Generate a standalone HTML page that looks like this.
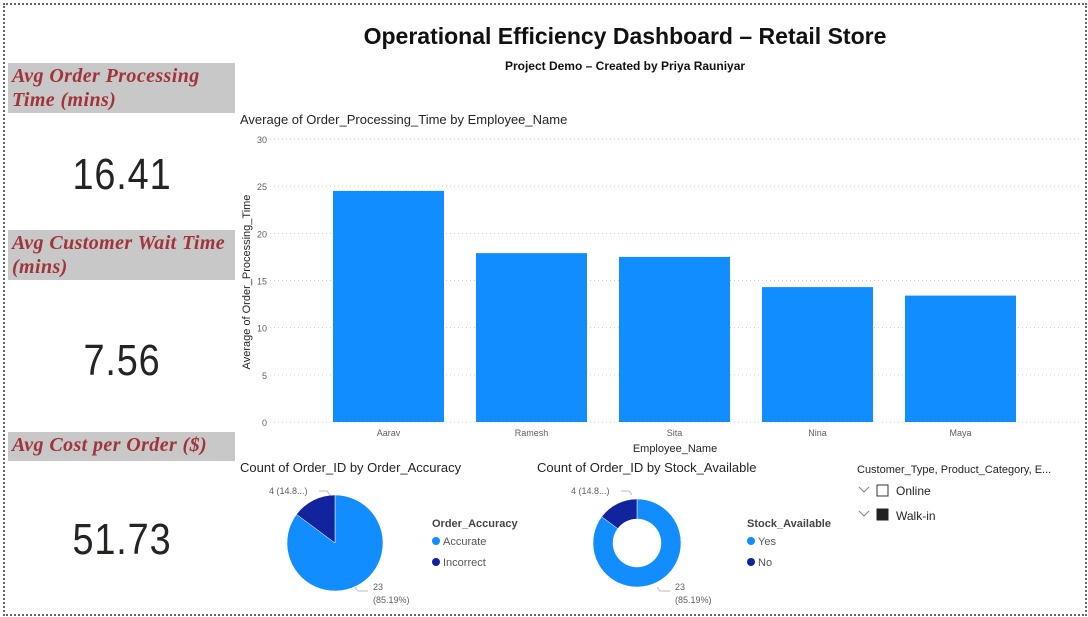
<!DOCTYPE html>
<html><head><meta charset="utf-8"><style>
body{margin:0;width:1088px;height:617px;background:#fff;overflow:hidden;font-family:"Liberation Sans",sans-serif;position:relative}
.abs{position:absolute}
.hdr{background:#c8c8c8;color:#a0343a;font-family:"Liberation Serif",serif;font-style:italic;font-weight:bold;font-size:20px;letter-spacing:0.4px;line-height:24px;padding-left:4px;box-sizing:border-box}
.kpi{font-size:44px;color:#252423;text-align:center;width:230px;transform:scaleX(0.86);letter-spacing:1px}
text{font-family:"Liberation Sans",sans-serif}
</style></head><body>
<div class="abs" style="left:3px;top:3px;width:1080px;height:609px;border:2px dotted #666"></div>
<div class="abs" style="left:330px;top:23px;width:590px;text-align:center;font-size:23px;font-weight:bold;color:#111">Operational Efficiency Dashboard – Retail Store</div>
<div class="abs" style="left:330px;top:59px;width:590px;text-align:center;font-size:12px;font-weight:bold;color:#111">Project Demo – Created by Priya Rauniyar</div>

<div class="abs hdr" style="left:8px;top:63px;width:227px;height:50px;padding-top:1px">Avg Order Processing<br>Time (mins)</div>
<div class="abs kpi" style="left:7px;top:150px">16.41</div>
<div class="abs hdr" style="left:8px;top:230px;width:227px;height:50px;padding-top:1px">Avg Customer Wait Time<br>(mins)</div>
<div class="abs kpi" style="left:7px;top:336px">7.56</div>
<div class="abs hdr" style="left:8px;top:432px;width:227px;height:29px;padding-top:1px">Avg Cost per Order ($)</div>
<div class="abs kpi" style="left:7px;top:515px">51.73</div>

<svg class="abs" style="left:0;top:0" width="1088" height="617" id="svg">
<text x="240" y="124" font-size="13" fill="#252423">Average of Order_Processing_Time by Employee_Name</text>
<g id="bars"></g>
<text transform="translate(250,282) rotate(-90)" text-anchor="middle" font-size="11" fill="#252423">Average of Order_Processing_Time</text>
<text x="675" y="452" text-anchor="middle" font-size="11" fill="#252423">Employee_Name</text>

<text x="240" y="472" font-size="13" fill="#252423">Count of Order_ID by Order_Accuracy</text>
<text x="537" y="472" font-size="13" fill="#252423">Count of Order_ID by Stock_Available</text>
<g id="pies"></g>
<text x="432" y="527" font-size="11" font-weight="bold" fill="#444">Order_Accuracy</text>
<circle cx="436" cy="541" r="4" fill="#118dff"/><text x="443" y="545" font-size="11" fill="#555">Accurate</text>
<circle cx="436" cy="562" r="4" fill="#12239e"/><text x="443" y="566" font-size="11" fill="#555">Incorrect</text>
<text x="747" y="527" font-size="11" font-weight="bold" fill="#444">Stock_Available</text>
<circle cx="751" cy="541" r="4" fill="#118dff"/><text x="758" y="545" font-size="11" fill="#555">Yes</text>
<circle cx="751" cy="562" r="4" fill="#12239e"/><text x="758" y="566" font-size="11" fill="#555">No</text>

<text x="857" y="473" font-size="11" fill="#252423">Customer_Type, Product_Category, E...</text>
<path d="M859,487 l5,5 l5,-5" fill="none" stroke="#888"/>
<rect x="877" y="485" width="11" height="11" fill="#fff" stroke="#333"/>
<text x="896" y="495" font-size="12" fill="#252423">Online</text>
<path d="M859,511 l5,5 l5,-5" fill="none" stroke="#888"/>
<rect x="877" y="509" width="11" height="11" fill="#222" stroke="#222"/>
<text x="896" y="520" font-size="12" fill="#252423">Walk-in</text>
</svg>
<script>
const categories=["Aarav","Ramesh","Sita","Nina","Maya"];
const values=[24.5,17.9,17.5,14.3,13.4];
const yTicks=[0,5,10,15,20,25,30];
const pieLabels=["Accurate","Incorrect"];
const pieValues=[23,4];
const stockLabels=["Yes","No"];
const stockValues=[23,4];
const NS="http://www.w3.org/2000/svg";
const x0=317,x1=1032,y0=422,y1=139,yMax=30;
const ys=v=>y0-(v/yMax)*(y0-y1);
const step=(x1-x0)/categories.length;
const g=document.getElementById('bars');
function mk(t,a){const e=document.createElementNS(NS,t);for(const k in a)e.setAttribute(k,a[k]);return e;}
yTicks.forEach(t=>{
  const l=mk('line',{x1:270,x2:1080,y1:ys(t),y2:ys(t),stroke:'#ccc','stroke-dasharray':'1,3'});
  
  
  g.appendChild(l);
  const tx=mk('text',{x:267,y:ys(t)+4,'text-anchor':'end','font-size':9,fill:'#605e5c'});
  tx.textContent=t;
  
  
  g.appendChild(tx);
});
categories.forEach((c,i)=>{
  const cx=x0+step*(i+0.5),w=111;
  const r=mk('rect',{x:cx-w/2,y:ys(values[i]),width:w,height:y0-ys(values[i]),fill:'#118dff'});
  
  
  g.appendChild(r);
  const tx=mk('text',{x:cx,y:436,'text-anchor':'middle','font-size':9,fill:'#605e5c'});
  tx.textContent=c;
  
  
  g.appendChild(tx);
});
const pg=document.getElementById('pies');
function drawPie(cx,cy,r,ri,vals,labels,name){
  const tot=vals.reduce((a,b)=>a+b,0);const cols=['#118dff','#12239e'];
  let a=0;
  vals.forEach((v,i)=>{
    const a2=a+v/tot*2*Math.PI;
    const p=(ang,rad)=>[cx+rad*Math.sin(ang),cy-rad*Math.cos(ang)];
    const [ax,ay]=p(a,r),[bx,by]=p(a2,r),lg=(a2-a)>Math.PI?1:0;
    let d;
    if(ri>0){const [cx2,cy2]=p(a2,ri),[dx,dy]=p(a,ri);d=`M${ax},${ay}A${r},${r} 0 ${lg} 1 ${bx},${by}L${cx2},${cy2}A${ri},${ri} 0 ${lg} 0 ${dx},${dy}Z`;}
    else d=`M${cx},${cy}L${ax},${ay}A${r},${r} 0 ${lg} 1 ${bx},${by}Z`;
    const s=mk('path',{d,fill:cols[i],stroke:'#fff','stroke-width':0.5});
    
    
    pg.appendChild(s);
    a=a2;
  });
  const pct0=(vals[0]/tot*100).toFixed(2),pct1=(vals[1]/tot*100).toFixed(1);
  const t1=mk('text',{x:cx-66,y:cy-49,'font-size':9,fill:'#605e5c'});
  t1.textContent=vals[1]+' ('+pct1.slice(0,4)+'...)';
  
  
  pg.appendChild(t1);
  const l1=mk('path',{d:`M${cx-16},${cy-52}h8l3,4`,fill:'none',stroke:'#bbb'});
  
  
  pg.appendChild(l1);
  const t2=mk('text',{x:cx+38,y:cy+47,'font-size':9,fill:'#605e5c'});
  t2.textContent=vals[0];
  
  
  pg.appendChild(t2);
  const t3=mk('text',{x:cx+38,y:cy+60,'font-size':9,fill:'#605e5c'});
  t3.textContent='('+pct0+'%)';
  
  
  pg.appendChild(t3);
  const l2=mk('path',{d:`M${cx+20},${cy+44}l3,4h10`,fill:'none',stroke:'#bbb'});
  
  
  pg.appendChild(l2);
}
drawPie(335,543,48,0,pieValues,pieLabels,'accuracy-pie');
drawPie(637,543,44,24,stockValues,stockLabels,'stock-donut');
</script>
</body></html>
